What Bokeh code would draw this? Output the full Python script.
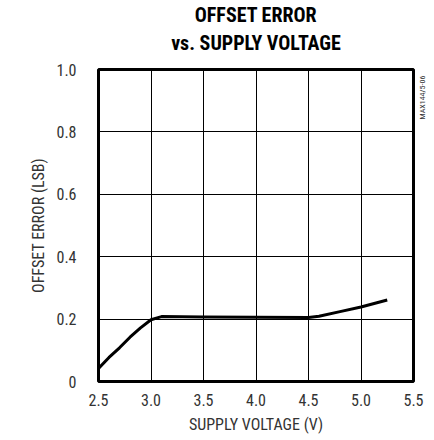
import math
from bokeh.plotting import figure
from bokeh.models import FixedTicker, Title, Range1d, LinearAxis
from bokeh.embed import file_html
from bokeh.resources import INLINE

# data
voltage = [2.5, 2.6, 2.7, 2.8, 2.9, 3.0, 3.1, 3.5, 4.0, 4.5, 4.6, 4.8, 5.0, 5.25]
offset_lsb = [0.042, 0.077, 0.108, 0.142, 0.172, 0.198, 0.208, 0.207, 0.206, 0.205, 0.209, 0.224, 0.239, 0.261]

x_ticks = [2.5, 3.0, 3.5, 4.0, 4.5, 5.0, 5.5]
y_ticks = [0.0, 0.2, 0.4, 0.6, 0.8, 1.0]
y_tick_labels = {0.0: "0", 0.2: "0.2", 0.4: "0.4", 0.6: "0.6", 0.8: "0.8", 1.0: "1.0"}
x_tick_labels = {2.5: "2.5", 3.0: "3.0", 3.5: "3.5", 4.0: "4.0", 4.5: "4.5", 5.0: "5.0", 5.5: "5.5"}
code_pos = [0.84]
code_text = {0.84: "MAX144/5-06"}

FONT = "'Roboto Condensed', 'DejaVu Sans Condensed', 'Liberation Sans Narrow', Roboto, sans-serif"

p = figure(width=434, height=436, output_backend="svg", toolbar_location=None,
           x_range=Range1d(2.5, 5.5), y_range=Range1d(0, 1.0),
           min_border_left=98, min_border_right=20, min_border_top=69, min_border_bottom=52)

p.title = None
t2 = Title(text="vs. SUPPLY VOLTAGE", align="center", text_font=FONT,
           text_font_size="20px", text_font_style="bold", text_color="black", standoff=29)
t1 = Title(text="OFFSET ERROR", align="center", text_font=FONT,
           text_font_size="20px", text_font_style="bold", text_color="black", standoff=-24)
p.add_layout(t2, "above")
p.add_layout(t1, "above")

# small figure code on the right edge, drawn as a rotated tick label of an extra axis
code_axis = LinearAxis(ticker=FixedTicker(ticks=code_pos))
code_axis.major_label_overrides = code_text
code_axis.major_label_orientation = math.pi / 2
code_axis.major_label_text_font = FONT
code_axis.major_label_text_font_size = "8px"
code_axis.major_label_text_color = "#333333"
code_axis.major_label_standoff = 9
code_axis.axis_line_color = None
code_axis.major_tick_line_color = None
code_axis.minor_tick_line_color = None
code_axis.major_tick_out = 0
code_axis.major_tick_in = 0
p.add_layout(code_axis, "right")

p.outline_line_color = "black"
p.outline_line_width = 3

p.xgrid.ticker = FixedTicker(ticks=x_ticks)
p.ygrid.ticker = FixedTicker(ticks=y_ticks)
p.xgrid.grid_line_color = "black"
p.ygrid.grid_line_color = "black"
p.xgrid.grid_line_width = 1
p.ygrid.grid_line_width = 1

for ax in (p.xaxis[0], p.yaxis[0]):
    ax.axis_line_color = None
    ax.major_tick_line_color = None
    ax.minor_tick_line_color = None
    ax.major_label_text_font = FONT
    ax.major_label_text_font_size = "16px"
    ax.major_label_text_font_style = "normal"
    ax.major_label_text_color = "#333333"
    ax.axis_label_text_font = FONT
    ax.axis_label_text_font_size = "16px"
    ax.axis_label_text_font_style = "normal"
    ax.axis_label_text_color = "#333333"

p.xaxis.ticker = FixedTicker(ticks=x_ticks)
p.yaxis[0].ticker = FixedTicker(ticks=y_ticks)
p.xaxis.major_label_overrides = x_tick_labels
p.yaxis[0].major_label_overrides = y_tick_labels
p.xaxis.axis_label = "SUPPLY VOLTAGE (V)"
p.yaxis[0].axis_label = "OFFSET ERROR (LSB)"
p.xaxis.major_label_standoff = 6
p.yaxis[0].major_label_standoff = 16
p.xaxis.axis_label_standoff = 6
p.yaxis[0].axis_label_standoff = 5

p.line(voltage, offset_lsb, line_color="black", line_width=3, line_join="round")

open("out.html", "w").write(file_html(p, INLINE))
